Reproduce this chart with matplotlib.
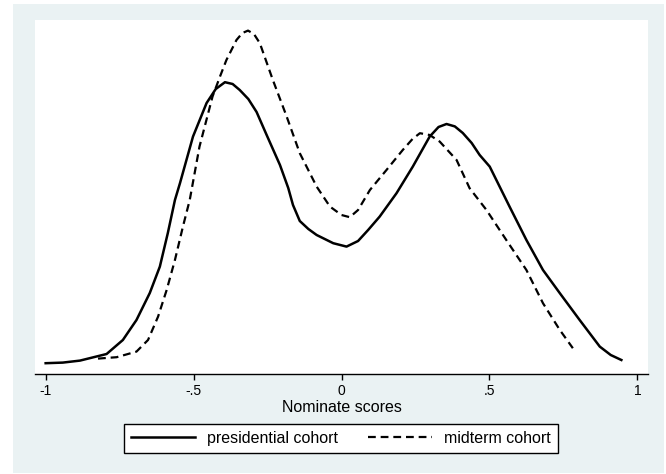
import matplotlib
matplotlib.use('Agg')
import matplotlib.pyplot as plt
from matplotlib.patches import Rectangle

plt.rcParams['font.family'] = ['Liberation Sans', 'DejaVu Sans']

# kernel density curves
pres_x = [-1.000, -0.942, -0.884, -0.794, -0.739, -0.693, -0.648, -0.614, -0.587,
          -0.563, -0.546, -0.502, -0.456, -0.425, -0.394, -0.368, -0.344, -0.315,
          -0.287, -0.253, -0.208, -0.180, -0.164, -0.141, -0.112, -0.084, -0.028,
          0.017, 0.056, 0.090, 0.129, 0.186, 0.241, 0.298, 0.328, 0.355, 0.383,
          0.410, 0.440, 0.467, 0.501, 0.568, 0.625, 0.681, 0.738, 0.805, 0.873,
          0.910, 0.946]
pres_y = [0.054, 0.057, 0.067, 0.100, 0.170, 0.270, 0.405, 0.537, 0.705,
          0.870, 0.954, 1.187, 1.355, 1.425, 1.459, 1.450, 1.420, 1.375,
          1.310, 1.195, 1.045, 0.930, 0.845, 0.765, 0.725, 0.695, 0.654,
          0.637, 0.665, 0.720, 0.787, 0.904, 1.037, 1.187, 1.235, 1.250, 1.238,
          1.205, 1.155, 1.095, 1.037, 0.837, 0.670, 0.520, 0.404, 0.270, 0.137,
          0.095, 0.070]

mid_x = [-0.823, -0.760, -0.693, -0.654, -0.620, -0.591, -0.563, -0.536, -0.513,
         -0.480, -0.436, -0.410, -0.389, -0.355, -0.335, -0.316, -0.296, -0.276,
         -0.232, -0.186, -0.141, -0.084, -0.039, 0.000, 0.028, 0.056, 0.096,
         0.152, 0.207, 0.240, 0.265, 0.298, 0.332, 0.389, 0.433, 0.490, 0.557,
         0.625, 0.681, 0.738, 0.782]
mid_y = [0.077, 0.084, 0.112, 0.170, 0.287, 0.420, 0.570, 0.737, 0.870,
         1.137, 1.387, 1.490, 1.570, 1.670, 1.705, 1.717, 1.700, 1.654,
         1.470, 1.290, 1.104, 0.937, 0.837, 0.795, 0.784, 0.820, 0.920,
         1.020, 1.120, 1.175, 1.204, 1.195, 1.162, 1.070, 0.929, 0.820, 0.670,
         0.520, 0.354, 0.220, 0.129]

xticks = [-1, -0.5, 0, 0.5, 1]
xticklabels = ['-1', '-.5', '0', '.5', '1']

W, H = 666, 474
fig = plt.figure(figsize=(W/100, H/100), dpi=100)
fig.patch.set_facecolor('white')
fig.patches.append(Rectangle((13/W, 1-473/H), (664-13)/W, (473-4)/H,
                             transform=fig.transFigure, facecolor='#eaf2f3',
                             edgecolor='none', zorder=-10))

ax = fig.add_axes([35/W, 1-374/H, (648-35)/W, (374-20)/H])
ax.set_facecolor('white')
ax.plot(pres_x, pres_y, color='black', lw=1.8, solid_joinstyle='round',
        label='presidential cohort')
ax.plot(mid_x, mid_y, color='black', lw=1.6, dashes=(3.5, 2.2),
        label='midterm cohort')

ax.set_xlim(-1.036, 1.036)
ax.set_ylim(0, 1.77)
for s in ['top', 'right', 'left']:
    ax.spines[s].set_visible(False)
ax.spines['bottom'].set_linewidth(1.0)
ax.set_yticks([])
ax.set_xticks(xticks)
ax.set_xticklabels(xticklabels, fontsize=10)
ax.tick_params(axis='x', direction='out', length=4, width=1, pad=3)
ax.set_xlabel('Nominate scores', fontsize=11.5, labelpad=2)

leg = fig.legend(loc='center', bbox_to_anchor=(341/W, 1-438.5/H), ncol=2,
                 fontsize=11.5, frameon=True, fancybox=False, edgecolor='black',
                 facecolor='white', framealpha=1, handlelength=4.0,
                 handletextpad=0.75, columnspacing=1.9, borderpad=0.45,
                 borderaxespad=0)
leg.get_frame().set_linewidth(1.0)

fig.savefig('out.png', dpi=100)
